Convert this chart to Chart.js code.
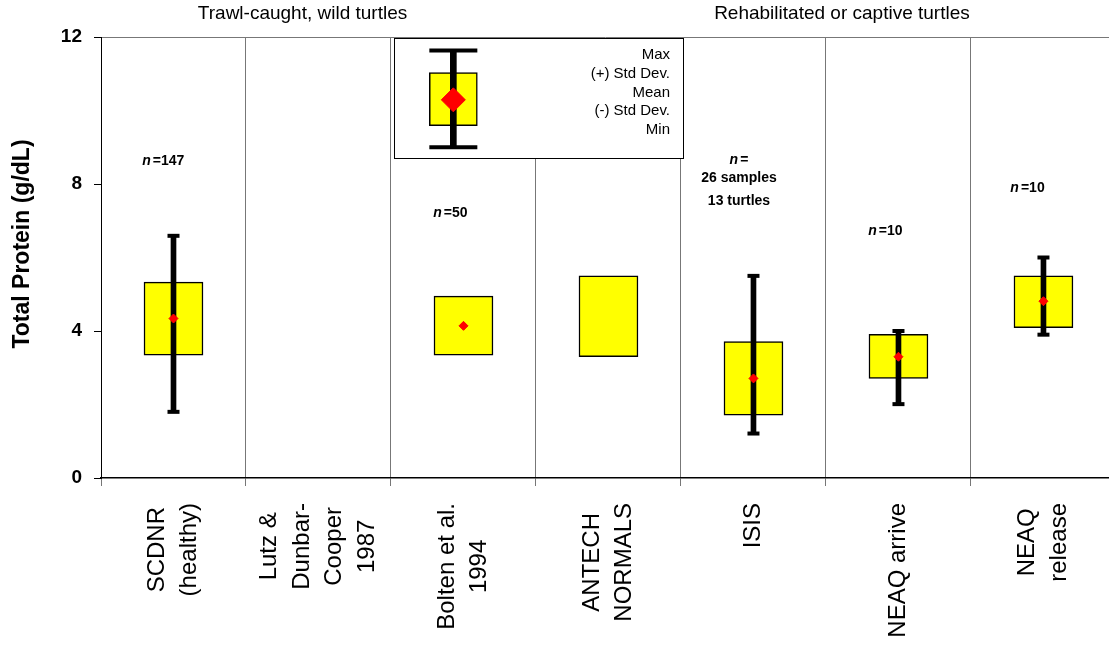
<!DOCTYPE html>
<html>
<head>
    <title>Total Protein</title>
    <script src="https://cdn.jsdelivr.net/npm/chart.js"></script>
    <style>
        html, body { margin: 0; padding: 0; background: #fff; overflow: hidden; }
        canvas { display: block; }
    </style>
</head>
<body>
    <canvas id="proteinChart" width="1109" height="649"></canvas>

    <script>
        // ------------- Data -------------
        const categories = [
            ['SCDNR', '(healthy)'],
            ['Lutz &', 'Dunbar-', 'Cooper', '1987'],
            ['Bolten et al.', '1994'],
            ['ANTECH', 'NORMALS'],
            ['ISIS'],
            ['NEAQ arrive'],
            ['NEAQ', 'release']
        ];
        const sdLow  = [3.34, null, 3.34, 3.30, 1.71, 2.71, 4.09];
        const sdHigh = [5.33, null, 4.95, 5.50, 3.71, 3.91, 5.50];
        const means  = [4.34, null, 4.14, null, 2.71, 3.30, 4.81];
        const mins   = [1.80, null, null, null, 1.21, 2.01, 3.90];
        const maxs   = [6.59, null, null, null, 5.50, 4.00, 6.00];

        // sample whisker drawn inside the key box
        const keyX = 1.93;
        const keyMin = 9.0, keySdLow = 9.59, keyMean = 10.29, keySdHigh = 11.03, keyMax = 11.63;
        const keyText = ['Max', '(+) Std Dev.', 'Mean', '(-) Std Dev.', 'Min'];

        // sample size notes
        const noteX = [-0.07, 1.91, 3.90, 4.91, 5.89];
        const noteY = [8.61, 7.21, 8.66, 6.73, 7.90];
        const noteText = ['=147', '=50', '=', '=10', '=10'];
        const isisLines = ['26 samples', '13 turtles'];
        const isisLineY = [8.17, 7.54];

        const groupText = ['Trawl-caught, wild turtles', 'Rehabilitated or captive turtles'];
        const groupX = [0.89, 4.61];
        const groupY = 12.63;

        const yTitle = 'Total Protein (g/dL)';
        const boundaries = [-0.5, 0.5, 1.5, 2.5, 3.5, 4.5, 5.5];
        const yTicks = [0, 4, 8, 12];

        const FONT = "'Liberation Sans', Arial, sans-serif";

        // ------------- Build datasets -------------
        const idx = categories.map((_, i) => i);
        const boxData = idx.filter(i => sdLow[i] !== null).map(i => ({ x: i, y: [sdLow[i], sdHigh[i]] }));
        const whiskerData = idx.filter(i => mins[i] !== null).map(i => ({ x: i, y: [mins[i], maxs[i]] }));
        const capData = [];
        idx.filter(i => mins[i] !== null).forEach(i => {
            capData.push({ x: i, y: maxs[i] });
            capData.push({ x: i, y: mins[i] });
        });
        const meanData = idx.filter(i => means[i] !== null).map(i => ({ x: i, y: means[i] }));

        // ------------- Annotation plugin -------------
        const notesPlugin = {
            id: 'notes',
            beforeDatasetsDraw(chart) {
                const ctx = chart.ctx;
                const a = chart.chartArea;
                // key frame
                const left = a.left + 293, top = a.top + 1, w = 289, h = 120;
                ctx.save();
                ctx.fillStyle = '#fff';
                ctx.fillRect(left, top, w, h);
                ctx.strokeStyle = '#000';
                ctx.lineWidth = 1;
                ctx.strokeRect(left + 0.5, top + 0.5, w, h);
                ctx.fillStyle = '#000';
                ctx.font = '15px ' + FONT;
                ctx.textAlign = 'right';
                ctx.textBaseline = 'middle';
                keyText.forEach((t, j) => ctx.fillText(t, left + 276, top + 17 + j * 18.75));
                ctx.restore();
            },
            afterDraw(chart) {
                const ctx = chart.ctx;
                const xs = chart.scales.x;
                const ys = chart.scales.y;
                ctx.save();
                ctx.fillStyle = '#000';

                // y axis title
                ctx.save();
                ctx.font = 'bold 23px ' + FONT;
                ctx.translate(23, 244);
                ctx.rotate(-Math.PI / 2);
                ctx.textAlign = 'center';
                ctx.textBaseline = 'middle';
                ctx.fillText(yTitle, 0, 0);
                ctx.restore();

                // category labels, rotated, lines centred in the block
                ctx.font = '24px ' + FONT;
                const lh = 32.5;
                categories.forEach((lines, i) => {
                    const maxW = Math.max(...lines.map(l => ctx.measureText(l).width));
                    const cx = xs.getPixelForValue(i);
                    const topY = chart.chartArea.bottom + 25;
                    ctx.save();
                    ctx.translate(cx, topY + maxW / 2);
                    ctx.rotate(-Math.PI / 2);
                    ctx.textAlign = 'center';
                    ctx.textBaseline = 'middle';
                    lines.forEach((l, j) => ctx.fillText(l, 0, (j - (lines.length - 1) / 2) * lh));
                    ctx.restore();
                });

                // n = notes
                ctx.textBaseline = 'middle';
                ctx.textAlign = 'left';
                noteText.forEach((t, i) => {
                    const italic = 'italic bold 14px ' + FONT;
                    const bold = 'bold 14px ' + FONT;
                    ctx.font = italic;
                    const wn = ctx.measureText('n').width + 2;
                    ctx.font = bold;
                    const wt = ctx.measureText(t).width;
                    const px = xs.getPixelForValue(noteX[i]) - (wn + wt) / 2;
                    const py = ys.getPixelForValue(noteY[i]);
                    ctx.font = italic;
                    ctx.fillText('n', px, py);
                    ctx.font = bold;
                    ctx.fillText(t, px + wn, py);
                });
                ctx.font = 'bold 14px ' + FONT;
                ctx.textAlign = 'center';
                isisLines.forEach((t, j) => {
                    ctx.fillText(t, xs.getPixelForValue(noteX[2]), ys.getPixelForValue(isisLineY[j]));
                });

                // group headings
                ctx.font = '19px ' + FONT;
                groupText.forEach((t, j) => {
                    ctx.fillText(t, xs.getPixelForValue(groupX[j]), ys.getPixelForValue(groupY));
                });
                ctx.restore();
            }
        };

        // ------------- Chart -------------
        const chart = new Chart(document.getElementById('proteinChart'), {
            type: 'bar',
            data: {
                datasets: [
                    {
                        type: 'scatter', label: 'Mean', data: meanData, order: 0,
                        pointStyle: 'rectRot', pointRadius: 4.5,
                        backgroundColor: '#ff0000', borderColor: '#ff0000', borderWidth: 1
                    },
                    {
                        type: 'scatter', label: 'Key mean', data: [{ x: keyX, y: keyMean }], order: 0,
                        pointStyle: 'rectRot', pointRadius: 12,
                        backgroundColor: '#ff0000', borderColor: '#ff0000', borderWidth: 1
                    },
                    {
                        type: 'scatter', label: 'Caps', data: capData, order: 1,
                        pointStyle: 'line', pointRadius: 6,
                        borderColor: '#000', borderWidth: 4
                    },
                    {
                        type: 'scatter', label: 'Key caps', data: [{ x: keyX, y: keyMax }, { x: keyX, y: keyMin }], order: 1,
                        pointStyle: 'line', pointRadius: 24,
                        borderColor: '#000', borderWidth: 4
                    },
                    {
                        label: 'Range', data: whiskerData, order: 2, grouped: false,
                        barThickness: 5, backgroundColor: '#000', borderWidth: 0
                    },
                    {
                        label: 'Key range', data: [{ x: keyX, y: [keyMin, keyMax] }], order: 2, grouped: false,
                        barThickness: 6, backgroundColor: '#000', borderWidth: 0
                    },
                    {
                        label: 'Std Dev', data: boxData, order: 3, grouped: false,
                        barThickness: 59, backgroundColor: '#ffff00',
                        borderColor: '#000', borderWidth: 1.5, borderSkipped: false
                    },
                    {
                        label: 'Key std dev', data: [{ x: keyX, y: [keySdLow, keySdHigh] }], order: 3, grouped: false,
                        barThickness: 48, backgroundColor: '#ffff00',
                        borderColor: '#000', borderWidth: 1.5, borderSkipped: false
                    }
                ]
            },
            options: {
                responsive: false,
                animation: false,
                events: [],
                layout: { autoPadding: false, padding: { top: 37, left: 0, right: 0, bottom: 0 } },
                plugins: {
                    legend: { display: false },
                    tooltip: { enabled: false }
                },
                scales: {
                    x: {
                        type: 'linear',
                        min: -0.5,
                        max: 6.452,
                        offset: false,
                        afterBuildTicks: s => { s.ticks = boundaries.map(v => ({ value: v })); },
                        afterFit: s => { s.height = 171; },
                        ticks: { display: false },
                        grid: {
                            offset: false,
                            color: '#777',
                            lineWidth: 1,
                            drawTicks: true,
                            tickLength: 8,
                            tickColor: '#777'
                        },
                        border: { color: '#000', width: 1.5 }
                    },
                    y: {
                        min: 0,
                        max: 12,
                        afterBuildTicks: s => { s.ticks = yTicks.map(v => ({ value: v })); },
                        afterFit: s => { s.width = 101; },
                        ticks: {
                            color: '#000',
                            padding: 12,
                            font: { family: FONT, size: 19, weight: 'bold' }
                        },
                        grid: {
                            color: c => (c.tick && c.tick.value === 12) ? '#777' : 'rgba(0,0,0,0)',
                            tickLength: 7,
                            tickColor: '#000'
                        },
                        border: { color: '#000', width: 1 }
                    }
                }
            },
            plugins: [notesPlugin]
        });
    </script>
</body>
</html>
